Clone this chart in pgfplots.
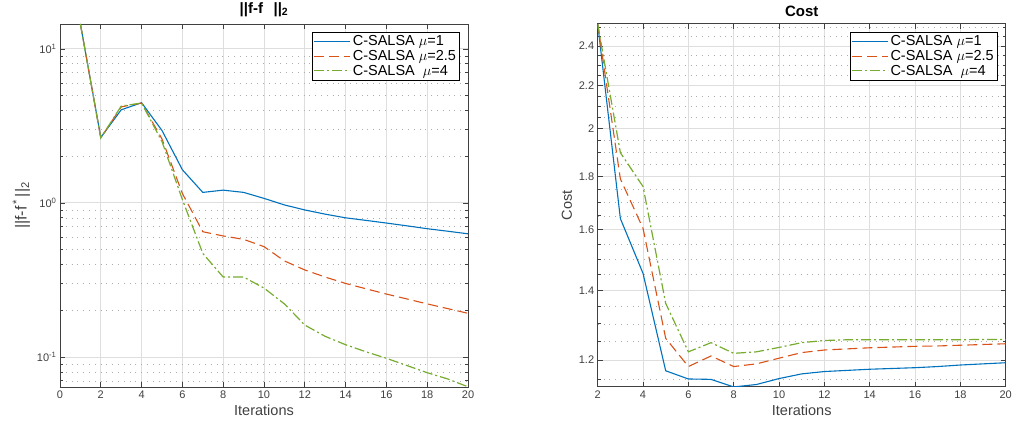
\documentclass[border=0pt]{standalone}
\usepackage{pgfplots}
\pgfplotsset{compat=1.18}
\usepackage{fontspec}
\setmainfont{Liberation Sans}
\definecolor{mblue}{rgb}{0,0.447,0.741}
\definecolor{mred}{rgb}{0.85,0.325,0.098}
\definecolor{mgreen}{rgb}{0.466,0.674,0.188}
\definecolor{axgray}{gray}{0.25}
\definecolor{gridgray}{gray}{0.87}
\definecolor{mingray}{gray}{0.68}

\pgfplotsset{
  mystyle/.style={
    scale only axis, width=408pt, height=363pt,
    axis line style={axgray, line width=0.9pt},
    tick style={axgray, line width=0.7pt},
    major tick length=5pt, minor tick length=3pt,
    tick align=inside,
    xmajorgrids, ymajorgrids, yminorgrids,
    major grid style={gridgray, line width=0.8pt},
    minor grid style={mingray, line width=0.6pt, dash pattern=on 0.8pt off 5pt},
    ticklabel style={font=\fontsize{11}{12}\selectfont, text=axgray},
    xlabel style={font=\fontsize{14.5}{16}\selectfont, text=axgray},
    ylabel style={font=\fontsize{14.5}{16}\selectfont, text=axgray},
    title style={font=\bfseries\fontsize{15}{17}\selectfont, yshift=-2pt},
    /pgf/number format/assume math mode=true,
    legend style={at={(0.98,0.978)}, anchor=north east, font=\fontsize{14.5}{16}\selectfont,
      draw=black, line width=0.7pt, inner sep=1.5pt, row sep=-1pt, text=black},
    legend cell align=left,
    legend image code/.code={\draw[#1, line width=1pt] (0pt,0pt) -- (36pt,0pt);},
  },
  l1/.style={mblue, line width=1.1pt},
  l2/.style={mred, line width=1.1pt, dash pattern=on 10pt off 5pt},
  l3/.style={mgreen, line width=1.2pt, dash pattern=on 10pt off 3pt on 2pt off 3pt},
}

\pgfplotstableread{
x blue red green
1 14.5 14.5 14.5
2 2.66 2.64 2.64
3 4.02 4.20 4.25
4 4.47 4.45 4.45
5 2.95 2.60 2.50
6 1.64 1.15 1.05
7 1.17 0.65 0.47
8 1.21 0.61 0.33
9 1.17 0.58 0.33
10 1.07 0.52 0.28
11 0.97 0.42 0.221
12 0.90 0.367 0.161
13 0.845 0.33 0.136
14 0.80 0.30 0.120
15 0.77 0.277 0.108
16 0.74 0.256 0.098
17 0.71 0.238 0.088
18 0.68 0.221 0.079
19 0.655 0.206 0.072
20 0.63 0.192 0.064
}\errtable

\pgfplotstableread{
x blue red green
2 2.52e6 2.52e6 2.52e6
3 1.640e6 1.790e6 1.897e6
4 1.453e6 1.605e6 1.760e6
5 1.172e6 1.259e6 1.360e6
6 1.151e6 1.183e6 1.222e6
7 1.150e6 1.211e6 1.247e6
8 1.131e6 1.183e6 1.218e6
9 1.137e6 1.190e6 1.222e6
10 1.152e6 1.205e6 1.234e6
11 1.164e6 1.220e6 1.247e6
12 1.170e6 1.227e6 1.253e6
13 1.173e6 1.230e6 1.255e6
14 1.176e6 1.233e6 1.255e6
15 1.178e6 1.235e6 1.255e6
16 1.180e6 1.237e6 1.255e6
17 1.183e6 1.238e6 1.255e6
18 1.187e6 1.240e6 1.255e6
19 1.190e6 1.242e6 1.256e6
20 1.193e6 1.244e6 1.256e6
}\costtable

\begin{document}
\begin{tikzpicture}
\path[use as bounding box] (0,0) rectangle (1013pt,429pt);

\begin{axis}[mystyle,
  at={(60pt,42pt)}, anchor=south west,
  ymode=log, xmin=0, xmax=20, ymin=0.0638, ymax=14.5,
  xtick={0,2,...,20},
  ytick={0.1,1,10},
  yticklabels={10\textsuperscript{-1},10\textsuperscript{0},10\textsuperscript{1}},
  minor ytick={0.07,0.08,0.09,0.2,0.3,0.4,0.5,0.6,0.7,0.8,0.9,2,3,4,5,6,7,8,9},
  xlabel={Iterations},
  ylabel={||f-f\textsuperscript{\,*}\,||\textsubscript{2}},
  ylabel style={font=\fontsize{16}{18}\selectfont},
  title={||f-f\hspace{0.7em}||\textsubscript{2}},
  clip=true,
]
\addplot[l1] table[x=x,y=blue] {\errtable};
\addlegendentry{C-SALSA $\mu$=1}
\addplot[l2] table[x=x,y=red] {\errtable};
\addlegendentry{C-SALSA $\mu$=2.5}
\addplot[l3] table[x=x,y=green] {\errtable};
\addlegendentry{C-SALSA \ $\mu$=4}
\end{axis}

\begin{axis}[mystyle,
  at={(597.7pt,42pt)}, anchor=south west,
  ymode=log, xmin=2, xmax=20, ymin=1.131e6, ymax=2.52e6,
  xtick={2,4,...,20},
  ytick={1.2e6,1.4e6,1.6e6,1.8e6,2.0e6,2.2e6,2.4e6},
  yticklabels={1.2,1.4,1.6,1.8,2,2.2,2.4},
  minor ytick={1.15e6,1.25e6,1.3e6,1.35e6,1.45e6,1.5e6,1.55e6,1.65e6,1.7e6,1.75e6,1.85e6,1.9e6,1.95e6,2.05e6,2.1e6,2.15e6,2.25e6,2.3e6,2.35e6,2.45e6,2.5e6},
  xlabel={Iterations},
  ylabel={Cost},
  title={Cost},
]
\addplot[l1] table[x=x,y=blue] {\costtable};
\addlegendentry{C-SALSA $\mu$=1}
\addplot[l2] table[x=x,y=red] {\costtable};
\addlegendentry{C-SALSA $\mu$=2.5}
\addplot[l3] table[x=x,y=green] {\costtable};
\addlegendentry{C-SALSA \ $\mu$=4}
\node[anchor=south west, inner sep=1pt, font=\fontsize{9}{10}\selectfont, text=axgray] at (rel axis cs:0,1) {×10\textsuperscript{6}};
\end{axis}
\end{tikzpicture}
\end{document}
